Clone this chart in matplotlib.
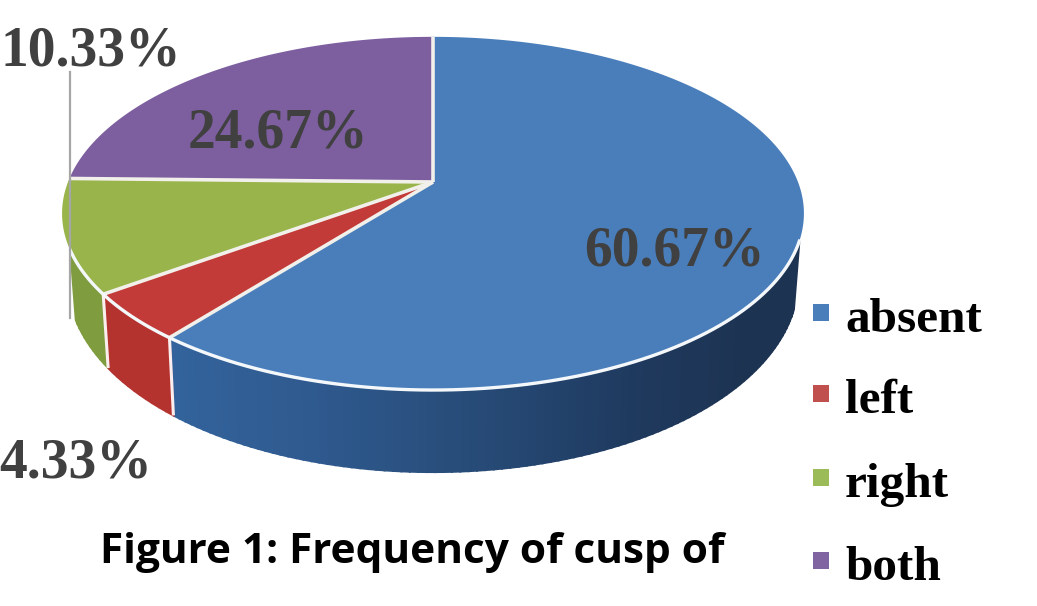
# recreate 3d pie chart, cusp of carabelli frequency
import numpy as np
from matplotlib import pyplot as plt
from matplotlib.colors import LinearSegmentedColormap
from matplotlib.patches import Rectangle

# data
categories = ['absent', 'left', 'right', 'both']
values = [60.67, 4.33, 10.33, 24.67]
title_text = 'Figure 1: Frequency of cusp of'

# colours
top_colors = ['#4a7ebb', '#c23b38', '#98b44a', '#7d5fa0']
legend_colors = ['#4a7ebb', '#c0504d', '#9bbb59', '#8064a2']
side_colors = ['#2f5f97', '#b5332f', '#7f9c3e', '#5f4680']
blue_side = LinearSegmentedColormap.from_list(
    'blue_side', ['#33639c', '#2f5a8f', '#274b77', '#1f3a5f', '#1d3352', '#1d3352'])

# pie geometry in pixels, circle with a perspective projection
cx, cy = 433, 182
rx, ry = 365, 171
k = 0.178


def project(theta):
    u, v = np.sin(theta), np.cos(theta)
    return cx + rx * u / (1 + k * v), cy - ry * v / (1 + k * v)


def project_low(theta):
    x, y = project(theta)
    return cx + (x - cx) * 0.985, y + 62 - 20 * np.cos(theta)


fig = plt.figure(figsize=(10.37, 6.06), dpi=100)
ax = fig.add_axes([0, 0, 1, 1])
ax.set_xlim(0, 1037)
ax.set_ylim(606, 0)
ax.axis('off')

edges = np.radians(np.cumsum([0] + values) / sum(values) * 360)

# side of the pie first, only the part facing us
side_start = np.radians(109)
side_end = np.radians(248)
for i in range(3):
    a0 = max(edges[i], side_start)
    a1 = min(edges[i + 1], side_end)
    steps = np.linspace(a0, a1, 100 if i == 0 else 12)
    for j in range(len(steps) - 1):
        t = np.array([steps[j], steps[j + 1]])
        xt, yt = project(t)
        xb, yb = project_low(t)
        if i == 0:
            col = blue_side(1 - j / (len(steps) - 2))
        else:
            col = side_colors[i]
        ax.fill([xt[0], xt[1], xb[1], xb[0]], [yt[0], yt[1], yb[1], yb[0]],
                color=col, lw=1.5, zorder=1)

# white separators on the side
for a in edges[1:3]:
    xt, yt = project(a)
    xb, yb = project_low(a)
    ax.plot([xt, xb], [yt, yb], color='#fbeeee', lw=2.2, zorder=2, solid_capstyle='butt')

# top faces
for i in range(4):
    t = np.linspace(edges[i], edges[i + 1], 200)
    x, y = project(t)
    ax.fill(np.r_[cx, x], np.r_[cy, y], color=top_colors[i], lw=0, zorder=3)

# white lines between the slices and along the front rim
for i, a in enumerate(edges[:4]):
    x, y = project(a)
    ax.plot([cx, x], [cy, y], color='#f2f0ea', lw=2.6, zorder=4, solid_capstyle='butt')
t = np.linspace(side_start, side_end, 200)
x, y = project(t)
ax.plot(x, y, color='#f4f8fb', lw=2.4, zorder=4)

# leader line for the right slice
ax.plot([70, 70], [72, 318], color='#a6a6a6', lw=1.6, zorder=5)

# data labels
label_pos = [(674, 265), (76, 478), (91, 66), (278, 148)]
for v, (lx, ly) in zip(values, label_pos):
    ax.text(lx, ly, f'{v:.2f}%', family='Liberation Serif', weight='bold', fontsize=40,
            color='#404040', ha='center', va='baseline', zorder=6)

# legend
legend_y = [332, 413, 497, 580]
for name, col, ly in zip(categories, legend_colors, legend_y):
    ax.add_patch(Rectangle((813, ly - 28), 16, 17, color=col, lw=0, zorder=6))
    ax.text(845, ly, name, family='Liberation Serif', weight='bold', fontsize=35.5,
            color='black', ha='left', va='baseline', zorder=6)

ax.text(412, 563, title_text, family='Open Sans', weight='bold', fontsize=30.5,
        color='black', ha='center', va='baseline', zorder=6)

fig.savefig('out.png', dpi=100, facecolor='white')
